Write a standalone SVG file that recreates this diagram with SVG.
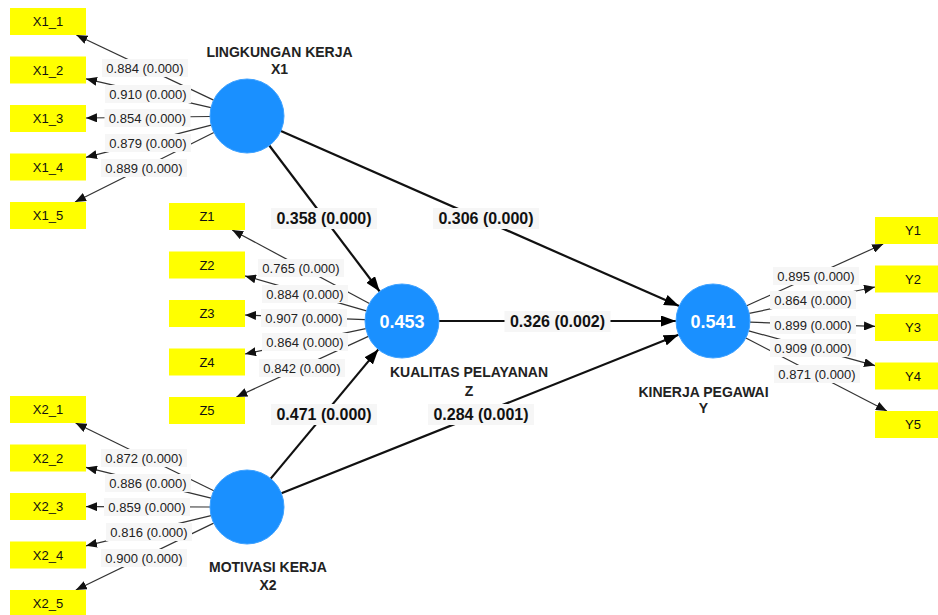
<svg xmlns="http://www.w3.org/2000/svg" width="938" height="615" viewBox="0 0 938 615">
<style>
.bg{fill:#ffffff}
.ind rect{fill:#ffff00}
.ind text{font-family:"Liberation Sans",Arial,sans-serif;font-size:13px;fill:#111;text-anchor:middle}
.lv circle{fill:#1a90ff;stroke:#3fa2ff;stroke-width:1}
.lv .val{font-family:"Liberation Sans",Arial,sans-serif;font-size:18px;font-weight:bold;fill:#ffffff;text-anchor:middle}
.lv .name{font-family:"Liberation Sans",Arial,sans-serif;font-size:14px;font-weight:bold;fill:#222;text-anchor:middle}
.thin{stroke:#333;stroke-width:1.2;fill:none;marker-end:url(#ah)}
.thick{stroke:#111;stroke-width:2.2;fill:none;marker-end:url(#AH)}
.lb rect{fill:#f6f6f6}
.lb text{font-family:"Liberation Sans",Arial,sans-serif;font-size:13px;fill:#222;text-anchor:middle}
.LB rect{fill:#f6f6f6}
.LB text{font-family:"Liberation Sans",Arial,sans-serif;font-size:16px;font-weight:bold;fill:#111;text-anchor:middle}
</style>
<defs>
<marker id="ah" markerUnits="userSpaceOnUse" markerWidth="11" markerHeight="9" refX="11" refY="4.5" orient="auto"><path d="M0,0 L11,4.5 L0,9 z" fill="#111"/></marker>
<marker id="AH" markerUnits="userSpaceOnUse" markerWidth="15" markerHeight="11" refX="15" refY="5.5" orient="auto"><path d="M0,0 L15,5.5 L0,11 z" fill="#000"/></marker>
</defs>
<rect class="bg" x="0" y="0" width="938" height="615"/>

<g id="connectors">
<line class="thin" x1="213.6" y1="100.1" x2="76.4" y2="35"/>
<line class="thin" x1="210.9" y1="107.7" x2="86" y2="78.8"/>
<line class="thin" x1="210" y1="116.5" x2="86" y2="118"/>
<line class="thin" x1="211.2" y1="125.2" x2="86" y2="157.3"/>
<line class="thin" x1="213.9" y1="132.5" x2="75" y2="202"/>

<line class="thin" x1="213.8" y1="490.7" x2="75.6" y2="423"/>
<line class="thin" x1="211.1" y1="498.2" x2="86" y2="467.4"/>
<line class="thin" x1="210" y1="507" x2="86" y2="506.6"/>
<line class="thin" x1="211" y1="515.7" x2="86" y2="545.8"/>
<line class="thin" x1="213.7" y1="523.1" x2="75.8" y2="590"/>

<line class="thin" x1="369.4" y1="303.5" x2="232.2" y2="230"/>
<line class="thin" x1="366.4" y1="310.8" x2="245" y2="275.9"/>
<line class="thin" x1="365" y1="319.6" x2="245" y2="315"/>
<line class="thin" x1="365.8" y1="328.6" x2="245" y2="354"/>
<line class="thin" x1="368.4" y1="336.4" x2="236.4" y2="397"/>

<line class="thin" x1="746.7" y1="305.7" x2="883.2" y2="244"/>
<line class="thin" x1="749.2" y1="313.4" x2="875" y2="287"/>
<line class="thin" x1="750" y1="322.2" x2="875" y2="326.3"/>
<line class="thin" x1="748.7" y1="330.8" x2="875" y2="365.6"/>
<line class="thin" x1="745.9" y1="338" x2="886.9" y2="411"/>

<line class="thick" x1="269.3" y1="145.5" x2="379.7" y2="291.5"/>
<line class="thick" x1="280.9" y1="130.9" x2="679.1" y2="306.1"/>
<line class="thick" x1="439" y1="321" x2="676" y2="321"/>
<line class="thick" x1="270.7" y1="478.6" x2="378.3" y2="349.4"/>
<line class="thick" x1="281.4" y1="493.3" x2="678.6" y2="334.7"/>

<g class="lb">
<rect x="102" y="59" width="86" height="18"/><text x="145" y="72.6">0.884 (0.000)</text>
<rect x="105" y="85" width="86" height="18"/><text x="148" y="98.6">0.910 (0.000)</text>
<rect x="104.5" y="109" width="86" height="18"/><text x="147.5" y="122.6">0.854 (0.000)</text>
<rect x="105" y="134" width="86" height="18"/><text x="148" y="147.6">0.879 (0.000)</text>
<rect x="101" y="159" width="86" height="18"/><text x="144" y="172.6">0.889 (0.000)</text>

<rect x="101" y="449" width="86" height="18"/><text x="144" y="462.6">0.872 (0.000)</text>
<rect x="105" y="474" width="86" height="18"/><text x="148" y="487.6">0.886 (0.000)</text>
<rect x="104" y="498" width="86" height="18"/><text x="147" y="511.6">0.859 (0.000)</text>
<rect x="106" y="523" width="86" height="18"/><text x="149" y="536.6">0.816 (0.000)</text>
<rect x="101" y="549" width="86" height="18"/><text x="144" y="562.6">0.900 (0.000)</text>

<rect x="258" y="259" width="86" height="18"/><text x="301" y="272.6">0.765 (0.000)</text>
<rect x="262" y="285" width="86" height="18"/><text x="305" y="298.6">0.884 (0.000)</text>
<rect x="261" y="309" width="86" height="18"/><text x="304" y="322.6">0.907 (0.000)</text>
<rect x="262" y="333" width="86" height="18"/><text x="305" y="346.6">0.864 (0.000)</text>
<rect x="259" y="359" width="86" height="18"/><text x="302" y="372.6">0.842 (0.000)</text>

<rect x="773" y="267" width="86" height="18"/><text x="816" y="280.6">0.895 (0.000)</text>
<rect x="770" y="291" width="86" height="18"/><text x="813" y="304.6">0.864 (0.000)</text>
<rect x="770" y="316" width="86" height="18"/><text x="813" y="329.6">0.899 (0.000)</text>
<rect x="770" y="339" width="86" height="18"/><text x="813" y="352.6">0.909 (0.000)</text>
<rect x="774" y="365" width="86" height="18"/><text x="817" y="378.6">0.871 (0.000)</text>
</g>
<g class="LB">
<rect x="271" y="208" width="106" height="21"/><text x="324" y="224">0.358 (0.000)</text>
<rect x="433" y="208" width="106" height="21"/><text x="486" y="224">0.306 (0.000)</text>
<rect x="504.5" y="311" width="106" height="21"/><text x="557.5" y="327">0.326 (0.002)</text>
<rect x="271" y="404" width="106" height="21"/><text x="324" y="420">0.471 (0.000)</text>
<rect x="428" y="404" width="106" height="21"/><text x="481" y="420">0.284 (0.001)</text>
</g>
</g>

<g id="X1_1" class="ind"><rect x="10" y="8" width="76" height="27"/><text x="48" y="26">X1_1</text></g>
<g id="X1_2" class="ind"><rect x="10" y="56.5" width="76" height="27"/><text x="48" y="74.5">X1_2</text></g>
<g id="X1_3" class="ind"><rect x="10" y="105" width="76" height="27"/><text x="48" y="123">X1_3</text></g>
<g id="X1_4" class="ind"><rect x="10" y="153.5" width="76" height="27"/><text x="48" y="171.5">X1_4</text></g>
<g id="X1_5" class="ind"><rect x="10" y="202" width="76" height="27"/><text x="48" y="220">X1_5</text></g>

<g id="X2_1" class="ind"><rect x="10" y="396" width="76" height="27"/><text x="48" y="414">X2_1</text></g>
<g id="X2_2" class="ind"><rect x="10" y="444.5" width="76" height="27"/><text x="48" y="462.5">X2_2</text></g>
<g id="X2_3" class="ind"><rect x="10" y="493" width="76" height="27"/><text x="48" y="511">X2_3</text></g>
<g id="X2_4" class="ind"><rect x="10" y="541.5" width="76" height="27"/><text x="48" y="559.5">X2_4</text></g>
<g id="X2_5" class="ind"><rect x="10" y="590" width="76" height="27"/><text x="48" y="608">X2_5</text></g>

<g id="Z1" class="ind"><rect x="169" y="203" width="76" height="27"/><text x="207" y="221">Z1</text></g>
<g id="Z2" class="ind"><rect x="169" y="251.5" width="76" height="27"/><text x="207" y="269.5">Z2</text></g>
<g id="Z3" class="ind"><rect x="169" y="300" width="76" height="27"/><text x="207" y="318">Z3</text></g>
<g id="Z4" class="ind"><rect x="169" y="348.5" width="76" height="27"/><text x="207" y="366.5">Z4</text></g>
<g id="Z5" class="ind"><rect x="169" y="397" width="76" height="27"/><text x="207" y="415">Z5</text></g>

<g id="Y1" class="ind"><rect x="875" y="217" width="76" height="27"/><text x="913" y="235">Y1</text></g>
<g id="Y2" class="ind"><rect x="875" y="265.5" width="76" height="27"/><text x="913" y="283.5">Y2</text></g>
<g id="Y3" class="ind"><rect x="875" y="314" width="76" height="27"/><text x="913" y="332">Y3</text></g>
<g id="Y4" class="ind"><rect x="875" y="362.5" width="76" height="27"/><text x="913" y="380.5">Y4</text></g>
<g id="Y5" class="ind"><rect x="875" y="411" width="76" height="27"/><text x="913" y="429">Y5</text></g>

<g id="LV_X1" class="lv"><circle cx="247" cy="116" r="37"/><text class="name" x="279.5" y="57">LINGKUNGAN KERJA</text><text class="name" x="279.5" y="74">X1</text></g>
<g id="LV_X2" class="lv"><circle cx="247" cy="507" r="37"/><text class="name" x="268" y="571.5">MOTIVASI KERJA</text><text class="name" x="268" y="589.5">X2</text></g>
<g id="LV_Z" class="lv"><circle cx="402" cy="321" r="37"/><text class="val" x="402" y="327.5">0.453</text><text class="name" x="469" y="377">KUALITAS PELAYANAN</text><text class="name" x="469" y="395.5">Z</text></g>
<g id="LV_Y" class="lv"><circle cx="713" cy="321" r="37"/><text class="val" x="713" y="327.5">0.541</text><text class="name" x="703.5" y="397">KINERJA PEGAWAI</text><text class="name" x="703.5" y="413">Y</text></g>
</svg>
